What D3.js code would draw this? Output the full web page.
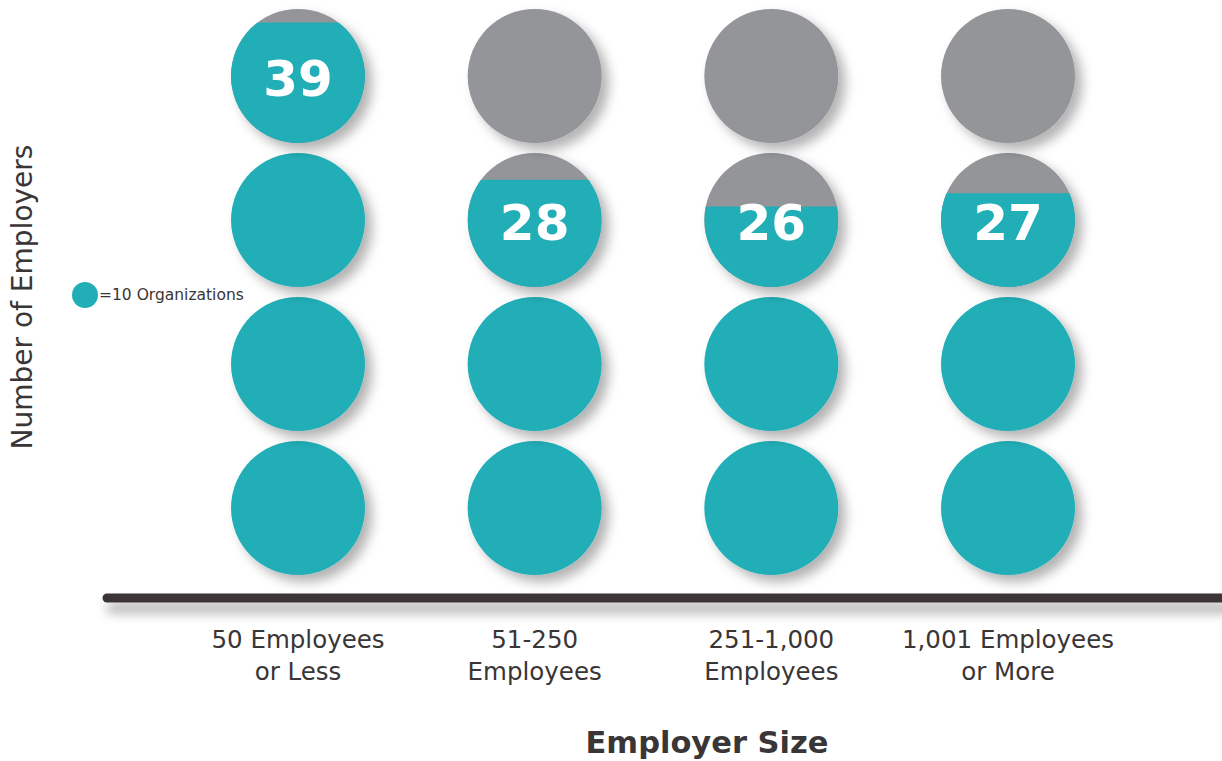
<!DOCTYPE html>
<html>
<head>
<meta charset="utf-8">
<script src="https://cdn.jsdelivr.net/npm/d3@7"></script>
<style>
  body { margin: 0; background: #fff; }
  text { font-family: "DejaVu Sans", "Open Sans", sans-serif; }
  .catLabel { font-size: 24.5px; fill: #3a3536; }
  .axisTitle { font-size: 30.5px; font-weight: 700; fill: #3a3536; }
  .yTitle { font-size: 28px; fill: #3a3536; }
  .bigNumber { font-size: 50px; font-weight: 700; fill: #fff; }
  .legend { font-size: 15.5px; fill: #3a3536; }
</style>
</head>
<body>
<div id="chart"></div>
<script>
var width = 1222, height = 761;

// data
var categories = ["50 Employees|or Less", "51-250|Employees", "251-1,000|Employees", "1,001 Employees|or More"];
var values = [39, 28, 26, 27];
var perIcon = 10;
var iconRows = [0, 1, 2, 3];
var legendText = "=10 Organizations";

var TEAL = "#22aeb7";
var GRAY = "#939598";
var DARK = "#3a3536";
var R = 67;

var svg = d3.select("#chart").append("svg")
    .attr("width", width)
    .attr("height", height);

var defs = svg.append("defs");
var shadow = defs.append("filter").attr("id", "shadow")
    .attr("x", "-30%").attr("y", "-30%").attr("width", "170%").attr("height", "170%");
shadow.append("feDropShadow")
    .attr("dx", 7).attr("dy", 7).attr("stdDeviation", 6)
    .attr("flood-color", "#000").attr("flood-opacity", 0.3);

// user space units, a flat line has no bbox height
var lineShadow = defs.append("filter").attr("id", "lineShadow")
    .attr("filterUnits", "userSpaceOnUse")
    .attr("x", 80).attr("y", 570).attr("width", 1200).attr("height", 70);
lineShadow.append("feDropShadow")
    .attr("dx", 4).attr("dy", 10).attr("stdDeviation", 6)
    .attr("flood-color", "#000").attr("flood-opacity", 0.35);

var x = d3.scalePoint()
    .domain(categories)
    .range([298, 1008]);

var y = d3.scaleLinear()
    .domain([0, 3])
    .range([508, 76]);

// icons
categories.forEach(function (cat, ci) {
    var v = values[ci];
    var full = Math.floor(v / perIcon);
    var frac = (v % perIcon) / perIcon;
    var g = svg.append("g").attr("transform", "translate(" + x(cat) + ",0)");

    iconRows.forEach(function (r) {
        var cy = y(r);
        var icon = g.append("g").attr("filter", "url(#shadow)");
        if (r < full) {
            icon.append("circle").attr("cx", 0).attr("cy", cy).attr("r", R).attr("fill", TEAL);
        } else if (r == full && frac > 0) {
            var clipId = "clip" + ci + "_" + r;
            defs.append("clipPath").attr("id", clipId)
                .append("rect")
                .attr("x", -R).attr("width", 2 * R)
                .attr("y", cy + R - frac * 2 * R)
                .attr("height", frac * 2 * R);
            var inner = icon.append("g");
            inner.append("circle").attr("cx", 0).attr("cy", cy).attr("r", R).attr("fill", GRAY);
            inner.append("circle").attr("cx", 0).attr("cy", cy).attr("r", R).attr("fill", TEAL)
                .attr("clip-path", "url(#" + clipId + ")");
            g.append("text")
                .attr("class", "bigNumber")
                .attr("x", 0).attr("y", cy + 20)
                .attr("text-anchor", "middle")
                .text(v);
        } else {
            icon.append("circle").attr("cx", 0).attr("cy", cy).attr("r", R).attr("fill", GRAY);
        }
    });

    var lines = cat.split("|");
    g.selectAll("text.catLabel")
        .data(lines)
        .enter().append("text")
        .attr("class", "catLabel")
        .attr("text-anchor", "middle")
        .attr("x", 0)
        .attr("y", function (d, i) { return 648 + i * 32; })
        .text(function (d) { return d; });
});

// baseline axis
svg.append("line")
    .attr("x1", 107).attr("x2", 1240)
    .attr("y1", 598).attr("y2", 598)
    .attr("stroke", DARK)
    .attr("stroke-width", 9)
    .attr("stroke-linecap", "round")
    .attr("filter", "url(#lineShadow)");

// legend
svg.append("circle")
    .attr("cx", 85).attr("cy", 295).attr("r", 13)
    .attr("fill", TEAL);
svg.append("text")
    .attr("class", "legend")
    .attr("x", 99).attr("y", 300)
    .text(legendText);

// titles
svg.append("text")
    .attr("class", "axisTitle")
    .attr("x", 707).attr("y", 753)
    .attr("text-anchor", "middle")
    .text("Employer Size");

svg.append("text")
    .attr("class", "yTitle")
    .attr("transform", "translate(32,297) rotate(-90)")
    .attr("text-anchor", "middle")
    .text("Number of Employers");
</script>
</body>
</html>
